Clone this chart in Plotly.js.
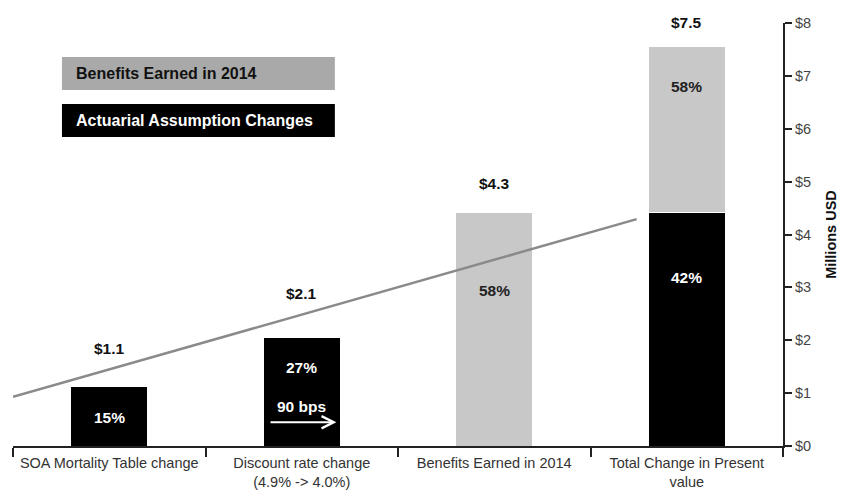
<!DOCTYPE html>
<html>
<head>
<meta charset="utf-8">
<script src="https://cdn.plot.ly/plotly-3.0.1.min.js"></script>
<style>html,body{margin:0;padding:0;background:#fff;}#chart{width:843px;height:491px;}</style>
</head>
<body>
<div id="chart"></div>
<script>
// ---- data ----
const categories = ["SOA Mortality Table change", "Discount rate change<br>(4.9% -> 4.0%)", "Benefits Earned in 2014", "Total Change in Present<br>value"];
const actuarialValues = [1.13, 2.06, 0, 4.42];
const benefitsValues = [0, 0, 4.42, 3.13];
const totalLabels = ["$1.1", "$2.1", "$4.3", "$7.5"];
const pctLabels = ["15%", "27%", "58%", "58%", "42%"];
const trendX = [-0.5, 2.74];
const trendY = [0.93, 4.29];
const yTickVals = [0, 1, 2, 3, 4, 5, 6, 7, 8];
const yTickText = ["$0", "$1", "$2", "$3", "$4", "$5", "$6", "$7", "$8"];
const legendNames = ["Benefits Earned in 2014", "Actuarial Assumption Changes"];
const bpsLabel = "90 bps";

const FONT = '"Liberation Sans", Arial, Helvetica, sans-serif';
const GRAY = '#c8c8c8';

const traces = [
  {type: 'bar', x: categories, y: actuarialValues, name: legendNames[1],
   marker: {color: '#000', line: {color: '#fff', width: 1}}, width: 0.4, hoverinfo: 'none'},
  {type: 'bar', x: categories, y: benefitsValues, name: legendNames[0],
   marker: {color: GRAY, line: {color: '#fff', width: 1}}, width: 0.4, hoverinfo: 'none'},
  {type: 'scatter', mode: 'lines', x: trendX, y: trendY, xaxis: 'x2', yaxis: 'y',
   line: {color: '#8a8a8a', width: 2.5}, hoverinfo: 'none'}
];

const lift = [38, 44, 29, 24];
const annotations = [];
categories.forEach((c, i) => {
  annotations.push({x: c, y: actuarialValues[i] + benefitsValues[i], text: '<b>' + totalLabels[i] + '</b>',
    showarrow: false, yanchor: 'middle', yshift: lift[i], font: {family: FONT, size: 15.5, color: '#111'}});
});
// percentage labels inside bars
const pctPos = [[0, 0.53, '#fff'], [1, 1.49, '#fff'], [2, 2.95, '#222'], [3, 6.79, '#222'], [3, 3.18, '#fff']];
pctPos.forEach((p, k) => {
  annotations.push({x: categories[p[0]], y: p[1], text: '<b>' + pctLabels[k] + '</b>', showarrow: false,
    font: {family: FONT, size: 15.5, color: p[2]}});
});
// 90 bps text + arrow
annotations.push({x: 1, y: 0.74, xref: 'x2', yref: 'y', text: '<b>' + bpsLabel + '</b>', showarrow: false,
  font: {family: FONT, size: 15.5, color: '#fff'}});
annotations.push({x: 1.18, y: 0.45, xref: 'x2', yref: 'y', ax: 0.83, ay: 0.45, axref: 'x2', ayref: 'y',
  text: '', showarrow: true, arrowhead: 5, arrowsize: 1.2, arrowwidth: 2, arrowcolor: '#fff', standoff: 0, startstandoff: 0});
// legend text
annotations.push({xref: 'paper', yref: 'paper', x: 0.0792, y: 0.8806, xanchor: 'left', yanchor: 'middle',
  text: '<b>' + legendNames[0] + '</b>', showarrow: false, font: {family: FONT, size: 16, color: '#111'}});
annotations.push({xref: 'paper', yref: 'paper', x: 0.0792, y: 0.7695, xanchor: 'left', yanchor: 'middle',
  text: '<b>' + legendNames[1] + '</b>', showarrow: false, font: {family: FONT, size: 16, color: '#fff'}});

const shapes = [
  {type: 'rect', xref: 'paper', yref: 'paper', x0: 0.0636, x1: 0.418, y0: 0.8416, y1: 0.9196,
   fillcolor: '#a9a9a9', line: {width: 0}, layer: 'below'},
  {type: 'rect', xref: 'paper', yref: 'paper', x0: 0.0636, x1: 0.418, y0: 0.7305, y1: 0.8085,
   fillcolor: '#000', line: {width: 0}, layer: 'below'}
];

const layout = {
  width: 843, height: 491,
  margin: {l: 13, r: 60, t: 23, b: 45, pad: 0},
  paper_bgcolor: '#fff', plot_bgcolor: '#fff',
  barmode: 'stack', showlegend: false,
  font: {family: FONT, size: 13, color: '#333'},
  xaxis: {type: 'category', range: [-0.5, 3.5], tickson: 'boundaries', ticks: 'outside', ticklen: 9,
    tickwidth: 2, tickcolor: '#222', showline: true, linecolor: '#222', linewidth: 2, showgrid: false,
    zeroline: false, tickangle: 0, tickfont: {family: FONT, size: 14.5, color: '#333'}, ticklabelstandoff: 3,
    fixedrange: true, automargin: false},
  xaxis2: {overlaying: 'x', anchor: 'y', range: [-0.5, 3.5], visible: false, fixedrange: true},
  yaxis: {side: 'right', range: [0, 8], tickmode: 'array', tickvals: yTickVals, ticktext: yTickText,
    ticks: 'outside', ticklen: 7,
    tickwidth: 2, tickcolor: '#222', showline: true, linecolor: '#222', linewidth: 2, showgrid: false,
    zeroline: false, tickfont: {family: FONT, size: 14.5, color: '#444'}, automargin: false, fixedrange: true,
    title: {text: '<b>Millions USD</b>', font: {family: FONT, size: 14.5, color: '#111'}, standoff: 16}},
  annotations: annotations,
  shapes: shapes
};

Plotly.newPlot('chart', traces, layout, {displayModeBar: false, staticPlot: true});
</script>
</body>
</html>
